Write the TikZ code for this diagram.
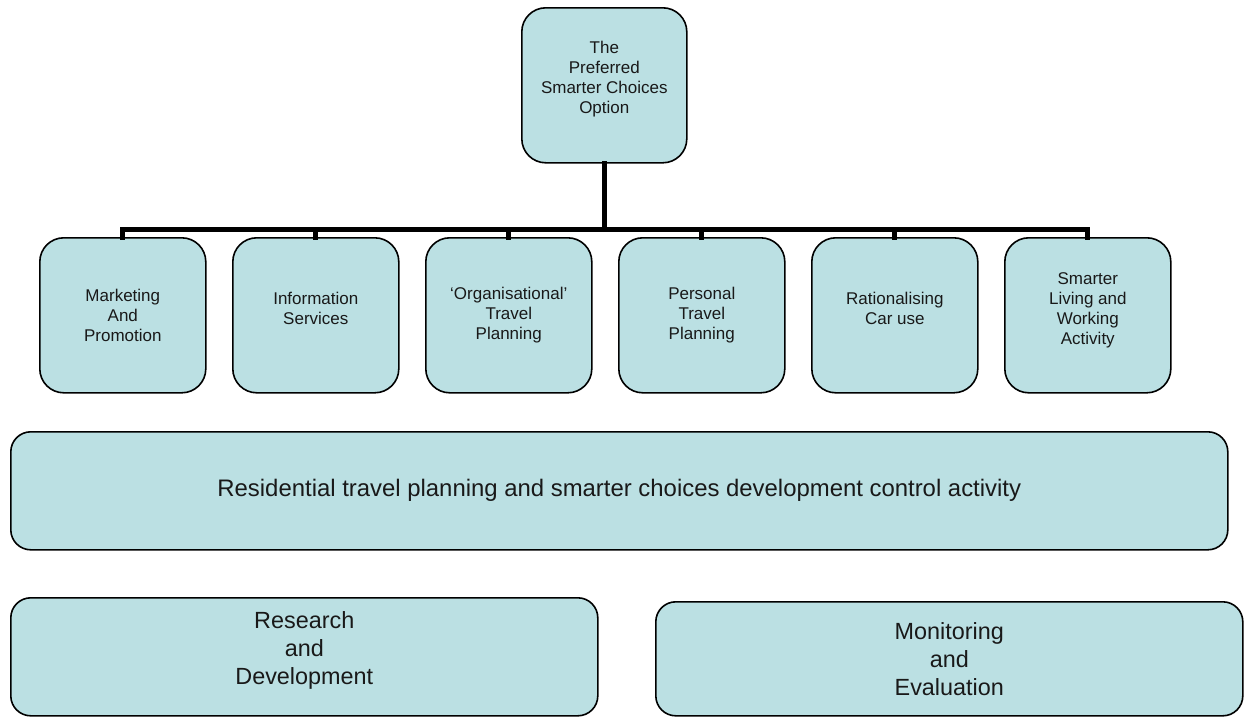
\documentclass[tikz,border=0pt]{standalone}
\usepackage{fontspec}
\setmainfont{Liberation Sans}
\definecolor{boxfill}{RGB}{187,224,227}

\begin{document}
\begin{tikzpicture}[
			x=1pt,
			y=-1pt,
			line join=round,
			box/.style={draw, fill=boxfill, line width=1.6pt, rounded corners=24pt,
				align=center, inner sep=0pt, text=black!90,
				font=\fontsize{17}{20}\selectfont},
			small/.style={box, minimum width=166pt, minimum height=155pt, anchor=north west},
			wide/.style={box, rounded corners=20pt, anchor=north west,
				font=\fontsize{23.4}{28}\selectfont},
			bus/.style={line width=5pt, line cap=rect}
			]
			
			\useasboundingbox (0,0) rectangle (1249,716);
			
			% Top box
			\node[box, minimum width=165pt, minimum height=155pt, anchor=north west]
				(top) at (521,7) {The\\Preferred\\Smarter Choices\\Option\\[-5pt]};
			
			% Row of options
			\node[small] (mkt) at (39,237) {Marketing\\And\\Promotion};
			\node[small] (info) at (232,237) {Information\\Services\\[-6pt]};
			\node[small] (org) at (425,237) {‘Organisational’\\Travel\\Planning};
			\node[small] (ptp) at (618,237) {Personal\\Travel\\Planning};
			\node[small] (car) at (811,237) {Rationalising\\Car use\\[-6pt]};
			\node[small] (act) at (1004,237) {Smarter\\Living and\\Working\\Activity\\[-7pt]};
			
			% Connectors
			\coordinate (bus) at (0,229);
			\draw[bus] (top.south) -- (top.south |- bus);
			\draw[bus] (mkt.north |- bus) -- (act.north |- bus);
			\foreach \n in {mkt,info,org,ptp,car,act}
				\draw[bus] (\n.north |- bus) -- (\n.north);
			
			% Wide boxes
			\node[wide, minimum width=1217pt, minimum height=118pt,
				font=\fontsize{23.9}{28}\selectfont] (res) at (10,431)
				{Residential travel planning and smarter choices development control activity};
			\node[wide, minimum width=587pt, minimum height=118pt] (rnd) at (10,597)
				{Research\\and\\Development\\[-10pt]};
			\node[wide, minimum width=587pt, minimum height=114pt] (mon) at (655,601)
				{Monitoring\\and\\Evaluation};
			
		\end{tikzpicture}
\end{document}
